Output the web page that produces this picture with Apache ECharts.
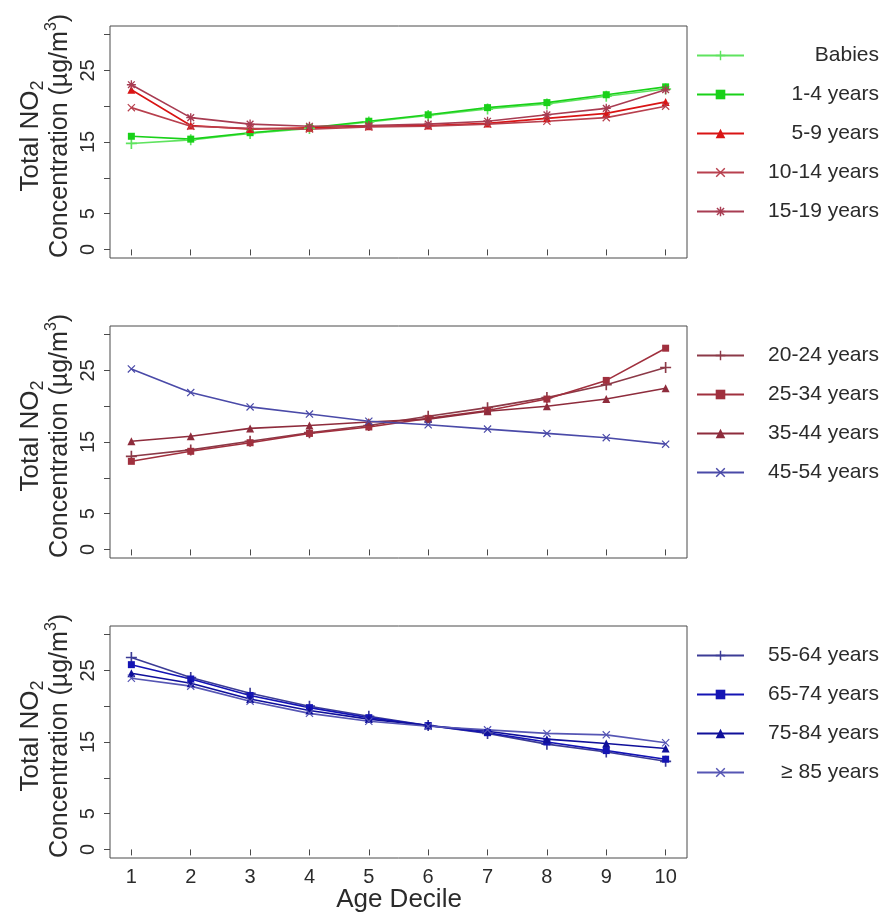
<!DOCTYPE html>
<html>
<head>
<meta charset="utf-8">
<script src="https://cdn.jsdelivr.net/npm/echarts@6/dist/echarts.min.js"></script>
<style>
  html, body { margin: 0; padding: 0; background: #ffffff; }
  #chart { width: 889px; height: 915px; }
</style>
</head>
<body>
<div id="chart"></div>
<script>
// Age deciles on the x axis
const deciles = [1, 2, 3, 4, 5, 6, 7, 8, 9, 10];

// Y axis ticks and the subset that carries labels
const yTicks = [0, 5, 10, 15, 20, 25, 30];
const yTickLabels = [0, 5, 15, 25];

// Panel 1: children and teenagers
const babies    = [14.8, 15.3, 16.2, 16.9, 17.8, 18.7, 19.6, 20.3, 21.4, 22.4];
const age1to4   = [15.8, 15.4, 16.3, 17.0, 17.9, 18.8, 19.8, 20.5, 21.6, 22.7];
const age5to9   = [22.3, 17.3, 16.8, 17.0, 17.2, 17.3, 17.6, 18.3, 19.0, 20.6];
const age10to14 = [19.8, 17.2, 16.9, 16.8, 17.1, 17.2, 17.5, 17.9, 18.4, 20.0];
const age15to19 = [23.0, 18.4, 17.5, 17.2, 17.3, 17.5, 17.9, 18.8, 19.7, 22.3];

// Panel 2: adults
const age20to24 = [13.0, 13.9, 15.1, 16.3, 17.3, 18.6, 19.8, 21.2, 23.0, 25.4];
const age25to34 = [12.3, 13.7, 14.9, 16.2, 17.1, 18.3, 19.4, 21.0, 23.6, 28.1];
const age35to44 = [15.1, 15.8, 16.9, 17.3, 17.8, 18.2, 19.3, 20.0, 21.0, 22.5];
const age45to54 = [25.2, 21.9, 19.9, 18.9, 17.9, 17.4, 16.8, 16.2, 15.6, 14.7];

// Panel 3: older adults
const age55to64 = [26.8, 24.0, 21.8, 20.0, 18.6, 17.3, 16.2, 14.7, 13.6, 12.3];
const age65to74 = [25.8, 23.8, 21.5, 19.8, 18.4, 17.3, 16.3, 15.0, 13.8, 12.6];
const age75to84 = [24.6, 23.2, 21.0, 19.4, 18.2, 17.3, 16.5, 15.4, 14.8, 14.1];
const age85plus = [23.9, 22.8, 20.7, 19.0, 17.9, 17.2, 16.7, 16.2, 16.0, 14.9];

// Marker shapes (plot characters)
const PLUS = 'path://M8.5,0h3v20h-3z M0,8.5h20v3h-20z';
const CROSS = 'path://M0,2.1L2.1,0L20,17.9L17.9,20Z M17.9,0L20,2.1L2.1,20L0,17.9Z';
const STAR = 'path://M8.5,0h3v20h-3z M0,8.5h20v3h-20z M1.5,3.6L3.6,1.5L18.5,16.4L16.4,18.5Z M16.4,1.5L18.5,3.6L3.6,18.5L1.5,16.4Z';

const FONT = '"Liberation Sans", Arial, Helvetica, sans-serif';
const TEXT = '#2b2b2b';

const panels = [
  { top: 26, labelsX: false, groups: [
    { name: 'Babies',      values: babies,    color: '#5fe35f', symbol: PLUS,       size: 11 },
    { name: '1-4 years',   values: age1to4,   color: '#19d119', symbol: 'rect',     size: 7 },
    { name: '5-9 years',   values: age5to9,   color: '#d91414', symbol: 'triangle', size: 8 },
    { name: '10-14 years', values: age10to14, color: '#b8404e', symbol: CROSS,      size: 8 },
    { name: '15-19 years', values: age15to19, color: '#a83c52', symbol: STAR,       size: 9 }
  ]},
  { top: 326, labelsX: false, groups: [
    { name: '20-24 years', values: age20to24, color: '#8c3a48', symbol: PLUS,       size: 11 },
    { name: '25-34 years', values: age25to34, color: '#a0303e', symbol: 'rect',     size: 7 },
    { name: '35-44 years', values: age35to44, color: '#8e2c3c', symbol: 'triangle', size: 8 },
    { name: '45-54 years', values: age45to54, color: '#4a4aa8', symbol: CROSS,      size: 8 }
  ]},
  { top: 626, labelsX: true, groups: [
    { name: '55-64 years', values: age55to64, color: '#3c3c96', symbol: PLUS,       size: 11 },
    { name: '65-74 years', values: age65to74, color: '#1414b4', symbol: 'rect',     size: 7 },
    { name: '75-84 years', values: age75to84, color: '#10109a', symbol: 'triangle', size: 8 },
    { name: '\u2265 85 years', values: age85plus, color: '#5656b4', symbol: CROSS,   size: 8 }
  ]}
];

const PANEL_H = 232;
const grids = [], xAxes = [], yAxes = [], series = [], legends = [], graphics = [];

panels.forEach((p, i) => {
  grids.push({
    left: 110, width: 577, top: p.top, height: PANEL_H,
    show: true, borderColor: '#4a4a4a', borderWidth: 1, backgroundColor: 'transparent'
  });
  xAxes.push({
    type: 'value', gridIndex: i, min: 0.64, max: 10.36,
    axisLine: { show: false },
    splitLine: { show: false },
    axisTick: { show: true, inside: false, length: 6, customValues: deciles,
                lineStyle: { color: '#4a4a4a', width: 1 } },
    axisLabel: { show: p.labelsX, customValues: deciles, margin: 9,
                 fontFamily: FONT, fontSize: 20, color: TEXT }
  });
  yAxes.push({
    type: 'value', gridIndex: i, min: -1.2, max: 31.2,
    axisLine: { show: false },
    splitLine: { show: false },
    axisTick: { show: true, inside: false, length: 6, customValues: yTicks,
                lineStyle: { color: '#4a4a4a', width: 1 } },
    axisLabel: { show: true, customValues: yTickLabels, rotate: 90, margin: 12,
                 fontFamily: FONT, fontSize: 20, color: TEXT }
  });

  p.groups.forEach(g => {
    series.push({
      name: g.name, type: 'line', xAxisIndex: i, yAxisIndex: i,
      data: deciles.map((d, k) => [d, g.values[k]]),
      symbol: g.symbol, symbolSize: g.size, showAllSymbol: true,
      lineStyle: { color: g.color, width: 1.6 },
      itemStyle: { color: g.color },
      emphasis: { disabled: true },
      animation: false
    });
  });

  legends.push({
    data: p.groups.map(g => g.name),
    orient: 'vertical', left: 691, top: p.top + 14,
    itemWidth: 47, itemHeight: 12, itemGap: 18,
    selectedMode: false,
    formatter: name => '{r|' + name + '}',
    textStyle: {
      rich: { r: { width: 130, align: 'right', fontFamily: FONT, fontSize: 21,
                   color: TEXT, lineHeight: 21 } }
    }
  });

  // Two-line y axis title, drawn vertically
  const cy = p.top + PANEL_H / 2 - 6;
  graphics.push({
    type: 'text', x: 31, y: cy, rotation: Math.PI / 2,
    style: {
      text: '{n|Total NO}{s|2}',
      align: 'center', verticalAlign: 'middle',
      rich: {
        n: { fontFamily: FONT, fontSize: 26, fill: TEXT, lineHeight: 32, verticalAlign: 'middle' },
        s: { fontFamily: FONT, fontSize: 18, fill: TEXT, lineHeight: 18, verticalAlign: 'bottom' }
      }
    }
  });
  graphics.push({
    type: 'text', x: 60, y: cy, rotation: Math.PI / 2,
    style: {
      text: '{n|Concentration (\u00b5g/m}{u|3}{n|)}',
      align: 'center', verticalAlign: 'middle',
      rich: {
        n: { fontFamily: FONT, fontSize: 25, fill: TEXT, lineHeight: 32, verticalAlign: 'middle' },
        u: { fontFamily: FONT, fontSize: 16, fill: TEXT, lineHeight: 18, verticalAlign: 'top' }
      }
    }
  });
});

graphics.push({
  type: 'text', x: 399, y: 900,
  style: { text: 'Age Decile', fontFamily: FONT, fontSize: 26, fill: TEXT,
           align: 'center', verticalAlign: 'middle' }
});

const chart = echarts.init(document.getElementById('chart'), null, { renderer: 'canvas' });
chart.setOption({
  backgroundColor: '#ffffff',
  animation: false,
  grid: grids,
  xAxis: xAxes,
  yAxis: yAxes,
  legend: legends,
  series: series,
  graphic: graphics
});
</script>
</body>
</html>
